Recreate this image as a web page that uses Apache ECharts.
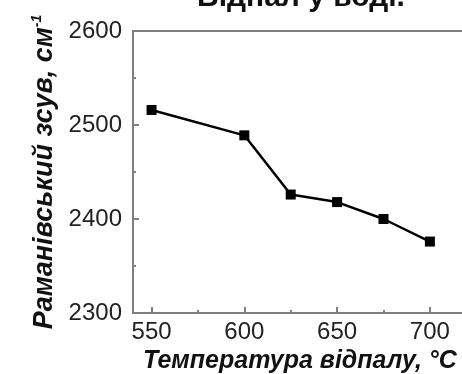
<!DOCTYPE html>
<html>
<head>
<meta charset="utf-8">
<script src="https://cdn.jsdelivr.net/npm/echarts@6/dist/echarts.min.js"></script>
<style>
  html, body { margin: 0; padding: 0; overflow: hidden; background: #fff; }
  #chart { width: 480px; height: 374px; }
</style>
</head>
<body>
<div id="chart"></div>
<script>
// температура відпалу, °C
const temps = [550, 600, 625, 650, 675, 700];
// раманівський зсув, см-1
const shifts = [2516, 2489, 2426, 2418, 2400, 2376];
const xMajor = [550, 600, 650, 700];
const xMinor = [575, 625, 675];

const axisGray = '#808080';
const nameFont = 'Liberation Sans';
const chart = echarts.init(document.getElementById('chart'));

const xBase = {
  type: 'value', min: 540, max: 720,
  axisLine: { lineStyle: { color: axisGray, width: 2 } },
  splitLine: { show: false }
};

chart.setOption({
  animation: false,
  title: {
    text: 'Відпал у воді.',
    left: 192, top: -22,
    textStyle: { fontFamily: 'Liberation Sans', fontWeight: 'bold', fontSize: 30, color: '#111' }
  },
  grid: {
    left: 133, top: 31, right: 13, bottom: 61,
    outerBoundsMode: 'none', containLabel: false,
    show: true, borderColor: axisGray, borderWidth: 2
  },
  xAxis: [
    Object.assign({}, xBase, {
      name: 'Температура відпалу, °C',
      nameLocation: 'middle', nameGap: 30,
      nameTextStyle: { fontFamily: nameFont, fontWeight: 'bold', fontStyle: 'italic', fontSize: 25, color: '#111' },
      axisTick: { inside: true, length: 6, customValues: xMajor, lineStyle: { color: axisGray, width: 2 } },
      axisLabel: { customValues: xMajor, margin: 7, fontFamily: 'Liberation Sans', fontSize: 24, color: '#222', formatter: v => String(v) }
    }),
    Object.assign({}, xBase, {
      axisTick: { inside: true, length: 3, customValues: xMinor, lineStyle: { color: axisGray, width: 2 } },
      axisLabel: { show: false },
      position: 'bottom'
    })
  ],
  yAxis: {
    type: 'value', min: 2300, max: 2600, interval: 100,
    name: '{m|Раманівський зсув, см}{s|-1}',
    nameLocation: 'middle', nameGap: 74, nameRotate: 90,
    nameTextStyle: {
      rich: {
        m: { fontFamily: nameFont, fontWeight: 'bold', fontStyle: 'italic', fontSize: 27, color: '#111' },
        s: { fontFamily: nameFont, fontWeight: 'bold', fontStyle: 'italic', fontSize: 14, color: '#111', verticalAlign: 'top', padding: [0, 0, 14, 0] }
      }
    },
    axisLine: { show: true, lineStyle: { color: axisGray, width: 2 } },
    axisTick: { inside: true, length: 6, lineStyle: { color: axisGray, width: 2 } },
    minorTick: { show: true, splitNumber: 2, length: 3, lineStyle: { color: axisGray, width: 2 } },
    axisLabel: { margin: 11, fontFamily: 'Liberation Sans', fontSize: 24, color: '#222', formatter: v => String(v) },
    splitLine: { show: false }
  },
  series: [{
    type: 'line',
    data: temps.map((t, i) => [t, shifts[i]]),
    symbol: 'rect', symbolSize: 10,
    itemStyle: { color: '#000' },
    lineStyle: { color: '#000', width: 2.5 }
  }]
});
</script>
</body>
</html>
